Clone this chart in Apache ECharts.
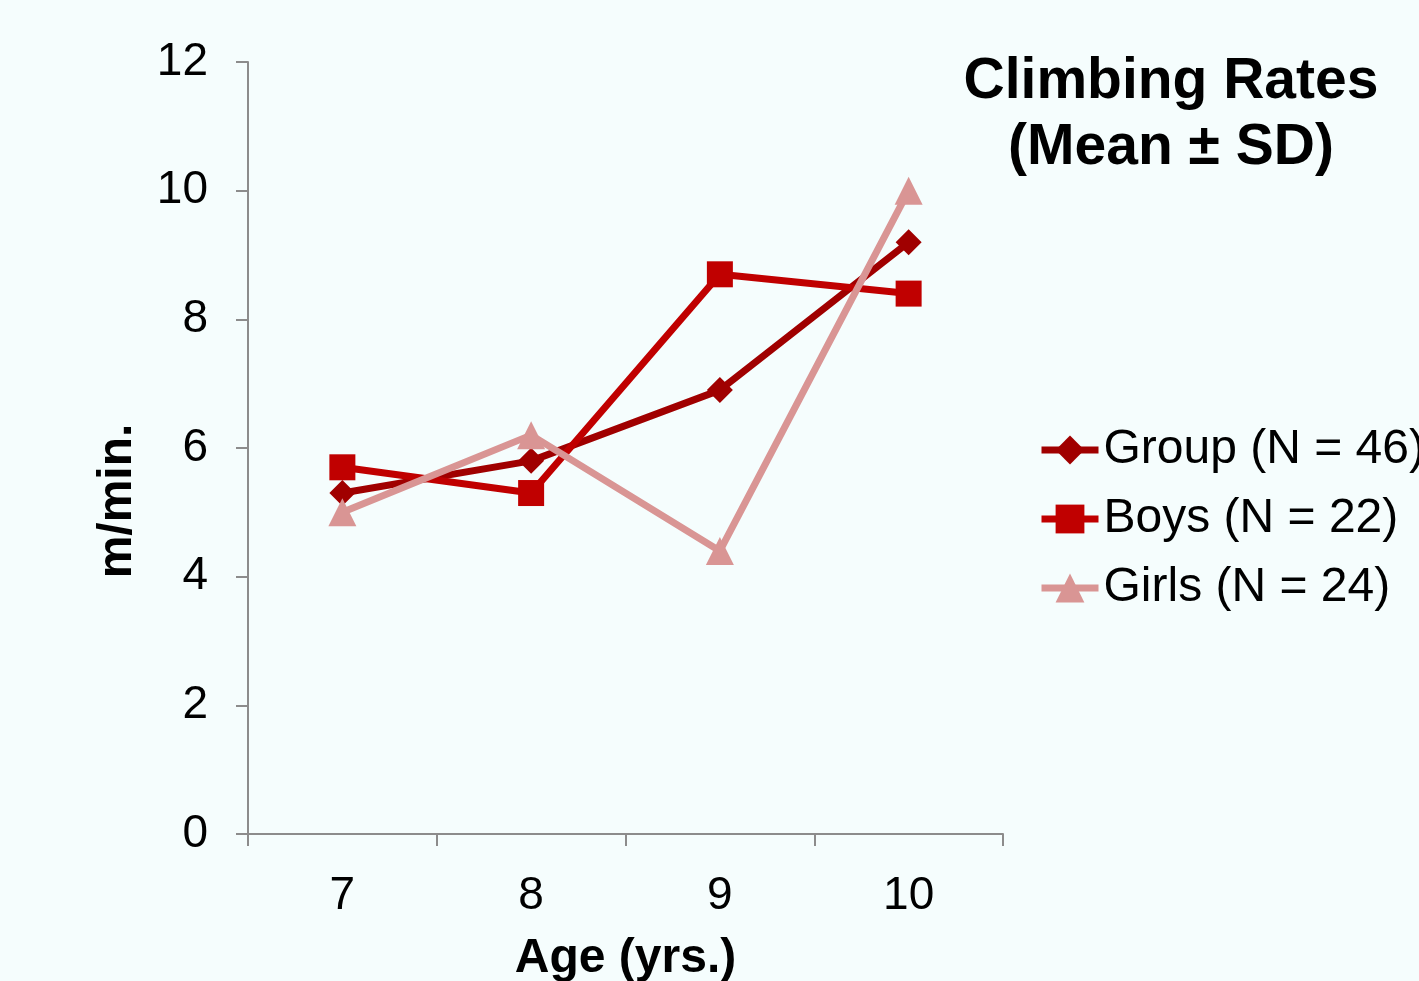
<!DOCTYPE html>
<html>
<head>
<meta charset="utf-8">
<script src="https://cdn.jsdelivr.net/npm/echarts@6/dist/echarts.min.js"></script>
<style>
  html, body { margin: 0; padding: 0; background: #F5FDFD; overflow: hidden; }
  #chart { width: 1419px; height: 981px; }
</style>
</head>
<body>
<div id="chart"></div>
<script>
// Age groups on the x axis
const ages = ['7', '8', '9', '10'];
// Mean climbing rate (m/min.) per age
const groupRates = [5.3, 5.8, 6.9, 9.2];
const boysRates = [5.7, 5.3, 8.7, 8.4];
const girlsRates = [5.0, 6.2, 4.4, 10.0];
const seriesNames = ['Group (N = 46)', 'Boys (N = 22)', 'Girls (N = 24)'];

const FONT = '"Liberation Sans", Arial, sans-serif';
const axisGrey = '#8C8C8C';

const chart = echarts.init(document.getElementById('chart'));

function lineSeries(name, data, color, symbol, size) {
  return {
    name: name,
    type: 'line',
    data: data,
    symbol: symbol,
    symbolSize: size,
    lineStyle: { color: color, width: 7 },
    itemStyle: { color: color },
    emphasis: { disabled: true }
  };
}

chart.setOption({
  backgroundColor: '#F5FDFD',
  animation: false,
  title: {
    text: 'Climbing Rates\n(Mean ± SD)',
    left: 1166,
    top: 44,
    textAlign: 'center',
    textStyle: {
      fontFamily: FONT,
      fontWeight: 'bold',
      fontSize: 57,
      lineHeight: 66,
      color: '#000'
    }
  },
  legend: {
    orient: 'vertical',
    left: 1033,
    top: 421,
    padding: 5,
    itemWidth: 57,
    itemHeight: 36,
    itemGap: 21,
    data: seriesNames,
    lineStyle: { width: 7 },
    textStyle: { fontFamily: FONT, fontSize: 48, color: '#000' }
  },
  grid: { left: 248, top: 62, right: 416, bottom: 147, outerBoundsMode: 'none' },
  xAxis: {
    type: 'category',
    data: ages,
    boundaryGap: true,
    name: 'Age (yrs.)',
    nameLocation: 'middle',
    nameGap: 101,
    nameTextStyle: { fontFamily: FONT, fontWeight: 'bold', fontSize: 48, color: '#000' },
    axisLine: { lineStyle: { color: axisGrey, width: 2 } },
    axisTick: { show: true, length: 12, lineStyle: { color: axisGrey, width: 2 } },
    axisLabel: { fontFamily: FONT, fontSize: 46, color: '#000', margin: 39 },
    splitLine: { show: false }
  },
  yAxis: {
    type: 'value',
    min: 0,
    max: 12,
    interval: 2,
    axisLine: { show: true, lineStyle: { color: axisGrey, width: 2 } },
    axisTick: { show: true, length: 12, lineStyle: { color: axisGrey, width: 2 } },
    axisLabel: { fontFamily: FONT, fontSize: 46, color: '#000', margin: 40 },
    splitLine: { show: false }
  },
  graphic: [{
    type: 'text',
    x: 118,
    y: 501,
    rotation: Math.PI / 2,
    style: {
      text: 'm/min.',
      fontFamily: FONT,
      fontWeight: 'bold',
      fontSize: 48,
      fill: '#000',
      align: 'center',
      verticalAlign: 'middle'
    }
  }],
  series: [
    lineSeries(seriesNames[0], groupRates, '#A00000', 'diamond', 26),
    lineSeries(seriesNames[1], boysRates, '#C00000', 'rect', 26),
    lineSeries(seriesNames[2], girlsRates, '#D99594', 'triangle', 28)
  ]
});
</script>
</body>
</html>
